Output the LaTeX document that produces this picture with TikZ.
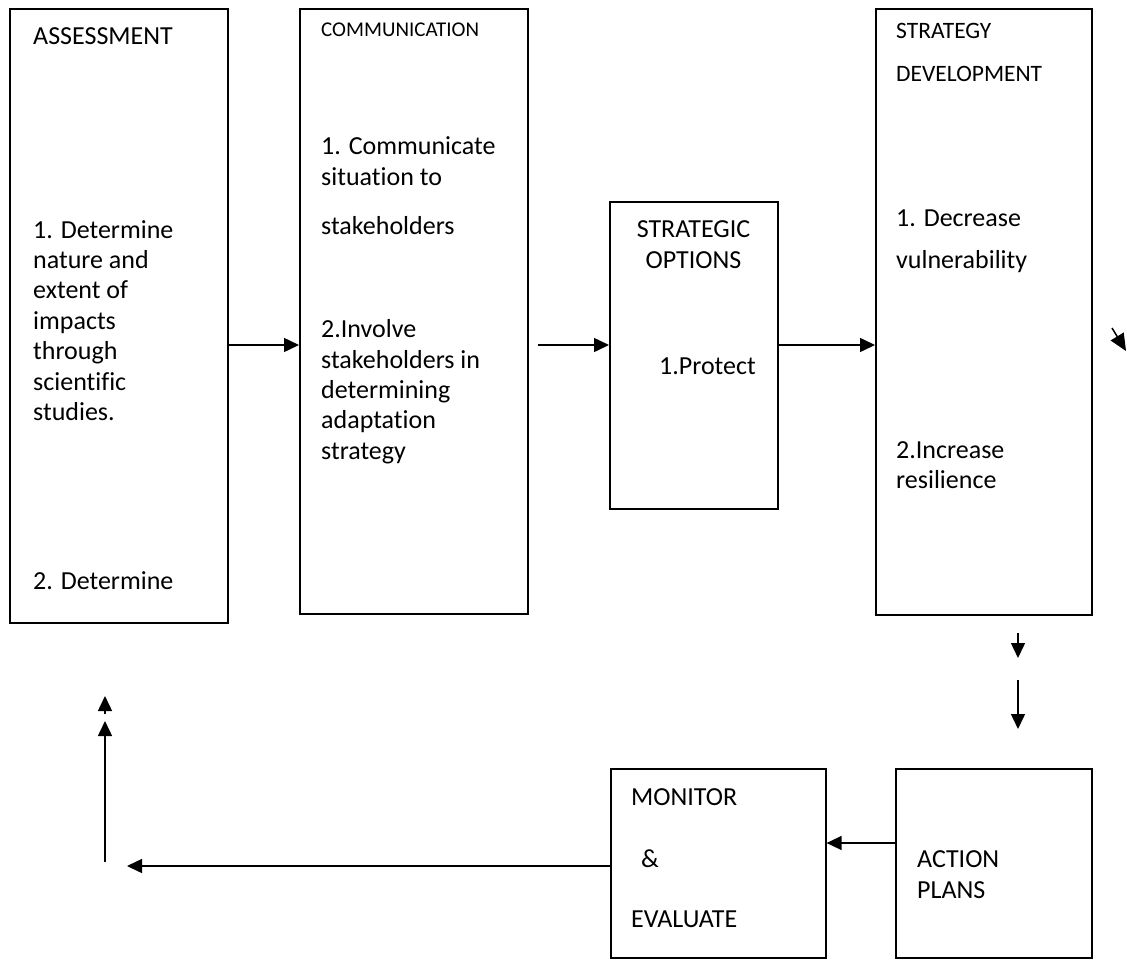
\documentclass[tikz,border=0pt]{standalone}
\usepackage{fontspec}
\setmainfont{Carlito}[Ligatures=NoCommon]
\usetikzlibrary{arrows.meta}
\begin{document}
\begin{tikzpicture}[x=1pt,y=-1pt,
  box/.style={draw,line width=1.6pt,inner sep=0pt,anchor=north west},
  txt/.style={anchor=base west,inner sep=0pt,font=\fontsize{26}{30}\selectfont},
  txtc/.style={anchor=base,inner sep=0pt,font=\fontsize{26}{30}\selectfont},
  hdsmall/.style={anchor=base west,inner sep=0pt,font=\fontsize{21}{25}\selectfont},
  hdmid/.style={anchor=base west,inner sep=0pt,font=\fontsize{23.5}{28}\selectfont},
  arr/.style={line width=1.5pt,-{Triangle[length=15pt,width=14pt]}},
  arrbig/.style={line width=1.5pt,-{Triangle[length=17pt,width=15pt]}}]
\useasboundingbox (0,0) rectangle (1127,960);
% boxes
\node[box,minimum width=218pt,minimum height=614pt] (A) at (9,8) {};
\node[box,minimum width=228pt,minimum height=605pt] (C) at (299,8) {};
\node[box,minimum width=168pt,minimum height=307pt] (O) at (609,201) {};
\node[box,minimum width=216pt,minimum height=606pt] (S) at (875,8) {};
\node[box,minimum width=215pt,minimum height=189pt] (M) at (610,768) {};
\node[box,minimum width=196pt,minimum height=189pt] (P) at (895,768) {};
% assessment text
\node[txt] (a0) at (33,45) {ASSESSMENT};
\node[txt] (a1) at (33,238) {1. Determine};
\node[txt] (a2) at (33,268) {nature and};
\node[txt] (a3) at (33,298) {extent of};
\node[txt] (a4) at (33,329) {impacts};
\node[txt] (a5) at (33,359) {through};
\node[txt] (a6) at (33,390) {scientific};
\node[txt] (a7) at (33,420) {studies.};
\node[txt] (a8) at (33,589) {2. Determine};
% communication text
\node[hdsmall] (c0) at (321,37) {COMMUNICATION};
\node[txt] (c1) at (321,155) {1. Communicate};
\node[txt] (c2) at (321,186) {situation to};
\node[txt] (c3) at (321,234) {stakeholders};
\node[txt] (c4) at (321,337) {2.Involve};
\node[txt] (c5) at (321,368) {stakeholders in};
\node[txt] (c6) at (321,398) {determining};
\node[txt] (c7) at (321,428) {adaptation};
\node[txt] (c8) at (321,459) {strategy};
% strategic options
\node[txtc] (o0) at (693.5,237) {STRATEGIC};
\node[txtc] (o1) at (693.5,268) {OPTIONS};
\node[txt] (o2) at (659,374) {1.Protect};
% strategy development
\node[hdmid] (s0) at (896,39) {STRATEGY};
\node[hdmid] (s1) at (896,82) {DEVELOPMENT};
\node[txt] (s2) at (896,227) {1. Decrease};
\node[txt] (s3) at (896,268) {vulnerability};
\node[txt] (s4) at (896,458) {2.Increase};
\node[txt] (s5) at (896,488) {resilience};
% monitor & evaluate
\node[txt] (m0) at (631,805) {MONITOR};
\node[txt] (m1) at (641,867) {\&};
\node[txt] (m2) at (631,927) {EVALUATE};
% action plans
\node[txt] (p0) at (917,867) {ACTION};
\node[txt] (p1) at (917,898) {PLANS};
% coordinates
\coordinate (y345) at (0,345);
\coordinate (y843) at (0,843);
\coordinate (y866) at (0,866);
\coordinate (f1) at (538,345);
\coordinate (dg1) at (1112,328);
\coordinate (dg2) at (1126,351);
\coordinate (d1a) at (1018,633);
\coordinate (d1b) at (1018,658);
\coordinate (d2a) at (1018,680);
\coordinate (d2b) at (1018,729);
\coordinate (lend) at (127,866);
\coordinate (u0) at (105,862);
\coordinate (u1) at (105,721);
\coordinate (u2) at (105,714);
\coordinate (u3) at (105,696);
% connectors
\draw[arr] (A.east |- y345) -- (C.west |- y345);
\draw[arr] (f1) -- (O.west |- y345);
\draw[arr] (O.east |- y345) -- (S.west |- y345);
\draw[arrbig] (dg1) -- (dg2);
\draw[arr] (d1a) -- (d1b);
\draw[arr] (d2a) -- (d2b);
\draw[arr] (P.west |- y843) -- (M.east |- y843);
\draw[arr] (M.west |- y866) -- (lend);
\draw[arr] (u0) -- (u1);
\draw[arr] (u2) -- (u3);
\end{tikzpicture}
\end{document}
